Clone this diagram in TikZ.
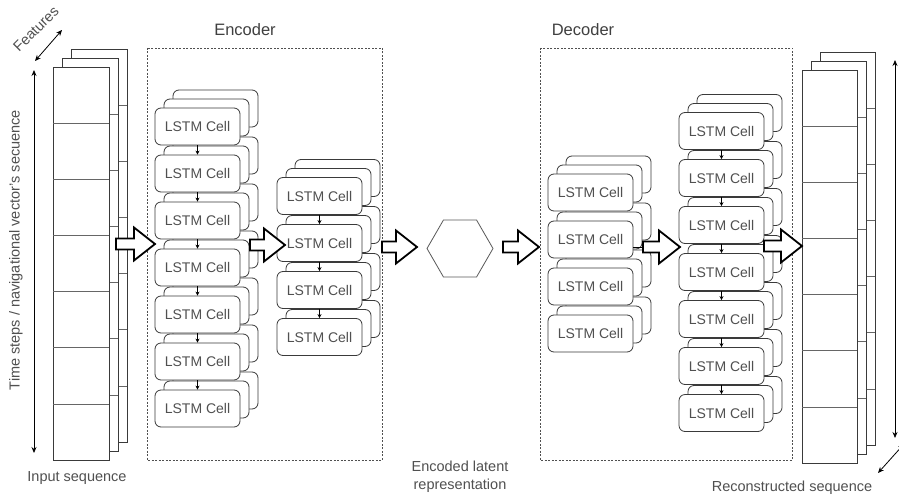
\documentclass[tikz,border=0pt]{standalone}
\usepackage{fontspec}
\setmainfont{Liberation Sans}
\usetikzlibrary{shapes.geometric,arrows.meta}
\definecolor{txt}{HTML}{505050}
\definecolor{boxc}{HTML}{3A3A3A}
\definecolor{dashc}{HTML}{505050}
\newcommand{\hollowarr}[3]{\draw[hollow] (#1,#3-5.5) -- (#2-21,#3-5.5) -- (#2-21,#3-16.5) -- (#2,#3) -- (#2-21,#3+16.5) -- (#2-21,#3+5.5) -- (#1,#3+5.5) -- cycle;}
\begin{document}
\begin{tikzpicture}[x=1pt,y=-1pt,
  cellfront/.style={draw=boxc, fill=white, rounded corners=6pt, minimum width=85pt, minimum height=37pt, inner sep=0pt, text=txt, font=\fontsize{14}{16}\selectfont, line width=0.8pt},
  cellback/.style={draw=boxc, fill=white, rounded corners=6pt, line width=0.8pt},
  seqline/.style={draw=boxc, fill=white, line width=0.8pt},
  divline/.style={draw=gray!80!black, line width=0.6pt},
  smallarr/.style={-{Stealth[length=4pt,width=4pt]}, line width=0.7pt, black},
  dblarr/.style={{Stealth[length=6pt,width=5pt]}-{Stealth[length=6pt,width=5pt]}, line width=0.8pt, black},
  hollow/.style={draw=black, fill=white, line width=1.8pt, line join=miter},
  groupbox/.style={draw=dashc, dash pattern=on 2pt off 1.5pt, line width=0.8pt},
  lbl/.style={text=txt, font=\fontsize{14.5}{18}\selectfont, inner sep=0pt},
  title/.style={text=black!75, font=\fontsize{16.5}{18}\selectfont, inner sep=0pt},
  hexa/.style={regular polygon, regular polygon sides=6, minimum size=66pt, inner sep=0pt, draw=gray!70!black, line width=0.8pt}]
\clip (0,0) rectangle (899,495);
\fill[white] (0,0) rectangle (899,495);

% group boxes
\draw[groupbox] (147,48) rectangle (382,460);
\draw[groupbox] (540,48) rectangle (792,460);
\node[title] (enclbl) at (245,30) {Encoder};
\node[title] (declbl) at (583,30) {Decoder};

% input sequence
\foreach \d in {18,9,0} {
  \draw[seqline] ({53+\d},{67-\d}) rectangle ++(56,393);
  \foreach \k in {1,...,6} \draw[divline] ({53+\d},{67-\d+56.14*\k}) -- ++(56,0);
}
% output sequence
\foreach \d in {18,9,0} {
  \draw[seqline] ({802+\d},{70-\d}) rectangle ++(55,393);
  \foreach \k in {1,...,6} \draw[divline] ({802+\d},{70-\d+56.14*\k}) -- ++(55,0);
}

% back layers of LSTM cells
\foreach \d in {18,9} {
  \foreach \cy in {126.5,173.5,220.5,267.5,314.5,361.5,408.5}
    \draw[cellback] ({155+\d},{\cy-18.5-\d}) rectangle ++(85,37);
  \foreach \cy in {196,243,290,337}
    \draw[cellback] ({277+\d},{\cy-18.5-\d}) rectangle ++(85,37);
  \foreach \cy in {192.5,239.5,286.5,333.5}
    \draw[cellback] ({548+\d},{\cy-18.5-\d}) rectangle ++(85,37);
  \foreach \cy in {131,178,225,272,319,366,413}
    \draw[cellback] ({679+\d},{\cy-18.5-\d}) rectangle ++(85,37);
}

% front cells
\foreach \i/\cy in {1/126.5,2/173.5,3/220.5,4/267.5,5/314.5,6/361.5,7/408.5}
  \node[cellfront] (ea\i) at (197.5,\cy) {LSTM Cell};
\foreach \i/\cy in {1/196,2/243,3/290,4/337}
  \node[cellfront] (eb\i) at (319.5,\cy) {LSTM Cell};
\foreach \i/\cy in {1/192.5,2/239.5,3/286.5,4/333.5}
  \node[cellfront] (da\i) at (590.5,\cy) {LSTM Cell};
\foreach \i/\cy in {1/131,2/178,3/225,4/272,5/319,6/366,7/413}
  \node[cellfront] (db\i) at (721.5,\cy) {LSTM Cell};

% small arrows between cells
\foreach \i/\j in {1/2,2/3,3/4,4/5,5/6,6/7} {
  \draw[smallarr] (ea\i.south) -- (ea\j.north);
  \draw[smallarr] (db\i.south) -- (db\j.north);
}
\foreach \i/\j in {1/2,2/3,3/4}
  \draw[smallarr] (eb\i.south) -- (eb\j.north);

% latent hexagon
\node[hexa] (hex) at (460,248.5) {};

% big hollow arrows
\hollowarr{116}{155}{244}
\hollowarr{250}{285}{245}
\hollowarr{382}{417}{247}
\hollowarr{503}{539}{247}
\draw[line width=0.8pt] (633,247) -- (643,247);
\hollowarr{643}{680}{247}
\hollowarr{764}{802}{246}

% dimension arrows
\coordinate (lt) at (34,70); \coordinate (lb) at (34,453);
\draw[dblarr] (lt) -- (lb);
\coordinate (rt) at (895,60); \coordinate (rb) at (895,438);
\draw[dblarr] (rt) -- (rb);
\coordinate (fa) at (35,61); \coordinate (fb) at (62,30);
\draw[dblarr] (fa) -- (fb);
\coordinate (ga) at (878,473); \coordinate (gb) at (904,444);
\draw[dblarr] (ga) -- (gb);

% labels
\node[lbl, rotate=90] (tlbl) at (16,250) {Time steps / navigational vector's secuence};
\node[lbl, rotate=45] (flbl) at (36,29) {Features};
\node[lbl] (inlbl) at (77,478) {Input sequence};
\node[lbl] (outlbl) at (792,488) {Reconstructed sequence};
\node[lbl, align=center] (latlbl) at (460,477) {Encoded latent\\representation};
\end{tikzpicture}
\end{document}
